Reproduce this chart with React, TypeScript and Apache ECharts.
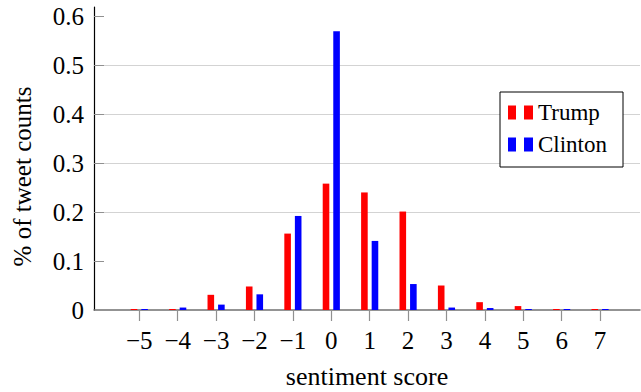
import React, { useEffect, useRef } from "react";
import * as echarts from "echarts";

const scores = [-5, -4, -3, -2, -1, 0, 1, 2, 3, 4, 5, 6, 7];
const trump = [0.002, 0.002, 0.031, 0.048, 0.156, 0.258, 0.24, 0.201, 0.05, 0.016, 0.008, 0.002, 0.002];
const clinton = [0.002, 0.005, 0.011, 0.032, 0.192, 0.569, 0.141, 0.053, 0.005, 0.004, 0.002, 0.002, 0.002];
const yTicks = [0, 0.1, 0.2, 0.3, 0.4, 0.5, 0.6];

const FONT = "'Liberation Serif', 'Times New Roman', serif";
const fmtX = (v: number) => (v < 0 ? "\u2212" + -v : String(v));
const fmtY = (v: number) => (Math.abs(v) < 1e-9 ? "0" : v.toFixed(1));

export default function App() {
  const ref = useRef<HTMLDivElement>(null);
  useEffect(() => {
    if (!ref.current) return;
    const chart = echarts.init(ref.current, null, { renderer: "svg" });
    const icon = "path://M0,0H8V14H0Z M16,0H25V14H16Z";
    chart.setOption({
      animation: false,
      textStyle: { fontFamily: FONT },
      grid: { left: 94, right: 1, top: 7, bottom: 82, outerBoundsMode: "none", containLabel: false },
      legend: {
        orient: "vertical",
        left: 500,
        top: 92,
        padding: [9, 16, 11, 8],
        borderColor: "#000",
        borderWidth: 1,
        backgroundColor: "#fff",
        itemWidth: 25,
        itemHeight: 14,
        itemGap: 9,
        textStyle: { fontFamily: FONT, fontSize: 23, lineHeight: 22, color: "#000" },
        data: [
          { name: "Trump", icon },
          { name: "Clinton", icon },
        ],
      },
      xAxis: {
        type: "value",
        min: -6.18,
        max: 8.04,
        name: "sentiment score",
        nameLocation: "middle",
        nameGap: 53,
        nameTextStyle: { fontFamily: FONT, fontSize: 26, lineHeight: 26, color: "#000" },
        axisLine: { show: true, onZero: false, lineStyle: { color: "#707070", width: 1.5 } },
        axisTick: {
          show: true,
          inside: false,
          length: 11,
          customValues: scores,
          lineStyle: { color: "#909090", width: 1.2 },
        },
        axisLabel: {
          customValues: scores,
          formatter: fmtX,
          fontFamily: FONT,
          fontSize: 25,
          color: "#000",
          margin: 18,
        },
        splitLine: { show: false },
      },
      yAxis: {
        type: "value",
        min: 0,
        max: 0.6186,
        interval: 0.1,
        name: "% of tweet counts",
        nameLocation: "middle",
        nameGap: 59,
        nameTextStyle: { fontFamily: FONT, fontSize: 25, color: "#000", padding: [0, 36, 0, 0] },
        axisLine: { show: true, onZero: false, lineStyle: { color: "#000", width: 1.2 } },
        axisTick: {
          show: true,
          inside: true,
          length: 10,
          customValues: yTicks.slice(1),
          lineStyle: { color: "#909090", width: 1 },
        },
        axisLabel: {
          customValues: yTicks,
          formatter: fmtY,
          fontFamily: FONT,
          fontSize: 25,
          color: "#000",
          margin: 10,
        },
        splitLine: {
          show: true,
          showMinLine: false,
          showMaxLine: false,
          lineStyle: { color: "#d3d3d3", width: 1 },
        },
      },
      series: [
        {
          name: "Trump",
          type: "bar",
          data: scores.map((s, i) => [s, trump[i]]),
          barWidth: 6.6,
          barGap: "60%",
          itemStyle: { color: "#ff0000" },
        },
        {
          name: "Clinton",
          type: "bar",
          data: scores.map((s, i) => [s, clinton[i]]),
          barWidth: 6.6,
          barGap: "60%",
          itemStyle: { color: "#0000ff" },
        },
      ],
    });
    return () => chart.dispose();
  }, []);
  return <div ref={ref} style={{ width: 641, height: 392, position: "absolute", left: 0, top: 0 }} />;
}
